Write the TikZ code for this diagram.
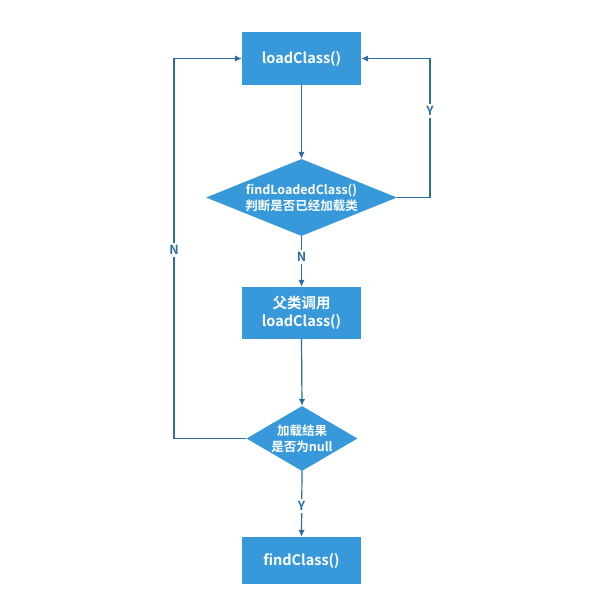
\documentclass[tikz,border=0pt]{standalone}
\usepackage{fontspec}
\setmainfont{Noto Sans CJK SC}[BoldFont={Noto Sans CJK SC Bold}]
\usetikzlibrary{shapes.geometric,arrows.meta}
\definecolor{boxfill}{RGB}{56,153,218}
\definecolor{linec}{RGB}{46,108,162}
\tikzset{
  box/.style={draw=none,fill=boxfill,text=white,font=\bfseries\fontsize{14.5}{18}\selectfont,minimum width=119pt,minimum height=53pt,inner sep=0pt,align=center},
  dia/.style={diamond,draw=none,fill=boxfill,inner sep=0pt},
  dtext/.style={text=white,font=\bfseries\fontsize{12.5}{16}\selectfont,align=center},
  arr/.style={draw=linec,line width=1.2pt,-{Latex[length=7pt,width=6.5pt]}},
  lab/.style={fill=white,text=linec,font=\bfseries\fontsize{12.5}{14}\selectfont,inner sep=2pt}
}
\begin{document}
\begin{tikzpicture}[x=1pt,y=-1pt]
\useasboundingbox (0,0) rectangle (606,603);
\node[box] (b1) at (301.5,58.5) {loadClass()};
\node[dia,minimum width=191pt,minimum height=77pt] (d1) at (301.5,197.5) {};
\node[dtext] (t1) at (d1.center) {findLoadedClass()\\判断是否已经加载类};
\node[box,minimum height=52pt] (b2) at (301.5,313) {父类调用\\loadClass()};
\node[dia,minimum width=111pt,minimum height=65pt] (d2) at (302,438.5) {};
\node[dtext] (t2) at (d2.center) {加载结果\\是否为null};
\node[box,minimum height=47pt] (b3) at (301.5,560.5) {findClass()};
\coordinate (rt) at (430,58.5);
\coordinate (lt) at (174,58.5);
\draw[arr] (b1) -- (d1);
\draw[arr] (d1.east) -| (rt) -- (b1.east);
\draw[arr] (d1.south) -- (b2.north);
\draw[arr] (b2.south) -- (d2.north);
\draw[arr] (d2.west) -| (lt) -- (b1.west);
\draw[arr] (d2.south) -- (b3.north);
\node[lab] (ly) at (430,111) {Y};
\node[lab] (ln1) at (301.5,257) {N};
\node[lab] (ln2) at (174,250) {N};
\node[lab] (ly2) at (301.5,506) {Y};
\end{tikzpicture}
\end{document}
